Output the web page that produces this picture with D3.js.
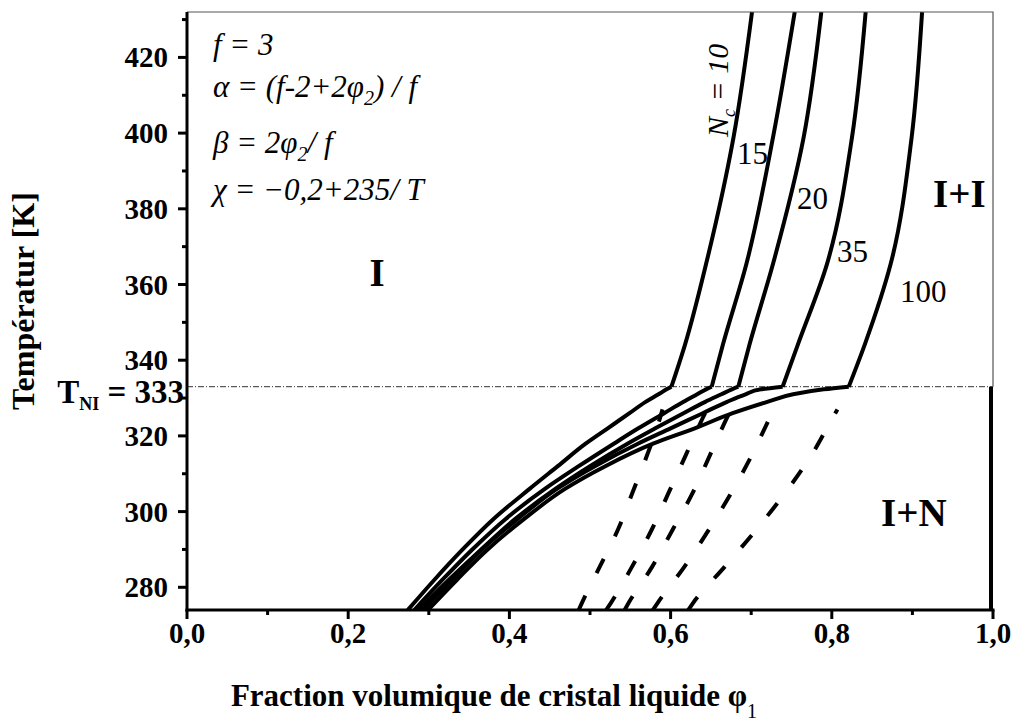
<!DOCTYPE html>
<html>
<head>
<meta charset="utf-8">
<script src="https://cdnjs.cloudflare.com/ajax/libs/d3/7.8.5/d3.min.js"></script>
<style>
  body { margin: 0; background: #fff; }
  svg text { font-family: "Liberation Serif", "Times New Roman", serif; fill: #000; }
</style>
</head>
<body>
<svg id="chart" width="1015" height="725"></svg>
<script>
// temperature grid (K) for the lower (I+N) branches
const lowT = [274, 282, 290, 298, 306, 312, 318, 322, 326, 329, 331, 332.3, 333];
// temperature grid for the upper (I+I) branches
const upT = [333, 344.2, 365.4, 398.8, 432];

const chainLengths = ['10', '15', '20', '35', '100'];

// phi1 of each binodal, lower branch (same order as lowT)
const low10  = [0.274, 0.307, 0.342, 0.380, 0.425, 0.460, 0.495, 0.522, 0.549, 0.569, 0.585, 0.595, 0.601];
const low15  = [0.282, 0.317, 0.354, 0.395, 0.444, 0.486, 0.530, 0.560, 0.592, 0.616, 0.633, 0.644, 0.651];
const low20  = [0.287, 0.325, 0.365, 0.407, 0.457, 0.500, 0.547, 0.581, 0.616, 0.643, 0.663, 0.676, 0.684];
const low35  = [0.293, 0.329, 0.366, 0.410, 0.459, 0.506, 0.560, 0.600, 0.640, 0.670, 0.693, 0.712, 0.739];
const low100 = [0.299, 0.335, 0.373, 0.418, 0.469, 0.519, 0.579, 0.630, 0.677, 0.720, 0.752, 0.790, 0.821];

// phi1 of each binodal, upper branch (same order as upT)
const up10  = [0.601, 0.618, 0.644, 0.678, 0.701];
const up15  = [0.651, 0.665, 0.694, 0.727, 0.754];
const up20  = [0.684, 0.698, 0.727, 0.765, 0.787];
const up35  = [0.739, 0.758, 0.794, 0.825, 0.842];
const up100 = [0.821, 0.841, 0.873, 0.899, 0.912];

// dashed (nematic side) curves
const dashT = [274, 275.9, 285.4, 295.4, 305.2, 315, 324.8, 327];
const dash10  = [0.486, 0.490, 0.512, 0.535, 0.553, 0.571, 0.587, 0.590];
const dash15  = [0.520, 0.526, 0.552, 0.577, 0.598, 0.619, 0.640, 0.645];
const dash20  = [0.543, 0.548, 0.577, 0.603, 0.628, 0.649, 0.670, 0.675];
const dash35  = [0.578, 0.584, 0.617, 0.648, 0.676, 0.701, 0.723, 0.728];
const dash100 = [0.622, 0.628, 0.667, 0.707, 0.743, 0.775, 0.801, 0.807];

const TNI = 333;
const xTicks = [0, 0.2, 0.4, 0.6, 0.8, 1.0];
const xMinor = [0.1, 0.3, 0.5, 0.7, 0.9];
const yTicks = [280, 300, 320, 340, 360, 380, 400, 420];
const yMinor = [290, 310, 330, 350, 370, 390, 410, 430];

const lowBranches = [low10, low15, low20, low35, low100];
const upBranches = [up10, up15, up20, up35, up100];
const dashBranches = [dash10, dash15, dash20, dash35, dash100];

const svg = d3.select('#chart');
const box = {left: 187, right: 993, top: 12, bottom: 610};

const x = d3.scaleLinear().domain([0, 1]).range([box.left, box.right]);
const y = d3.scaleLinear().domain([274, 432]).range([box.bottom, box.top]);

svg.append('defs').append('clipPath').attr('id', 'plot')
  .append('rect').attr('x', box.left).attr('y', box.top)
  .attr('width', box.right - box.left).attr('height', box.bottom - box.top);

const line = d3.line()
  .x(d => x(d[1]))
  .y(d => y(d[0]))
  .curve(d3.curveMonotoneY);

const g = svg.append('g').attr('clip-path', 'url(#plot)');

// T_NI line
g.append('line')
  .attr('x1', box.left).attr('x2', box.right)
  .attr('y1', y(TNI)).attr('y2', y(TNI))
  .attr('stroke', '#333').attr('stroke-width', 1)
  .attr('stroke-dasharray', '6,2,1,2');

lowBranches.forEach(function(b){
  g.append('path')
    .datum(lowT.map((t, i) => [t, b[i]]))
    .attr('d', line)
    .attr('fill', 'none').attr('stroke', '#000').attr('stroke-width', 4)
    .attr('stroke-linejoin', 'round');
});

upBranches.forEach(function(b){
  g.append('path')
    .datum(upT.map((t, i) => [t, b[i]]))
    .attr('d', line)
    .attr('fill', 'none').attr('stroke', '#000').attr('stroke-width', 4);
});

dashBranches.forEach(function(b){
  g.append('path')
    .datum(dashT.map((t, i) => [t, b[i]]))
    .attr('d', line)
    .attr('fill', 'none').attr('stroke', '#000').attr('stroke-width', 4)
    .attr('stroke-dasharray', '16,25');
});

// pure LC nematic line at phi1 = 1
g.append('line')
  .attr('x1', x(1) - 2).attr('x2', x(1) - 2)
  .attr('y1', y(TNI)).attr('y2', box.bottom)
  .attr('stroke', '#000').attr('stroke-width', 4);

// frame: thin top and right
svg.append('path')
  .attr('d', 'M' + box.left + ',' + box.top + 'H' + box.right + 'V' + y(TNI))
  .attr('fill', 'none').attr('stroke', '#555').attr('stroke-width', 1.2);

// axes
const xAxis = svg.append('g').attr('transform', 'translate(0,' + box.bottom + ')');
xAxis.append('line').attr('x1', box.left - 1.5).attr('x2', box.right + 1.5)
  .attr('stroke', '#000').attr('stroke-width', 3);
xAxis.selectAll('.maj').data(xTicks).enter().append('line')
  .attr('x1', d => x(d)).attr('x2', d => x(d)).attr('y1', 0).attr('y2', 9)
  .attr('stroke', '#000').attr('stroke-width', 3);
xAxis.selectAll('.min').data(xMinor).enter().append('line')
  .attr('x1', d => x(d)).attr('x2', d => x(d)).attr('y1', 0).attr('y2', 5)
  .attr('stroke', '#000').attr('stroke-width', 3);
xAxis.selectAll('.lab').data(xTicks).enter().append('text')
  .attr('x', d => x(d)).attr('y', 33)
  .attr('text-anchor', 'middle')
  .style('font-size', '29px').style('font-weight', 'bold')
  .text(d => d3.format('.1f')(d).replace('.', ','));

const yAxis = svg.append('g').attr('transform', 'translate(' + box.left + ',0)');
yAxis.append('line').attr('y1', box.top).attr('y2', box.bottom + 1.5)
  .attr('stroke', '#000').attr('stroke-width', 3);
yAxis.selectAll('.maj').data(yTicks).enter().append('line')
  .attr('y1', d => y(d)).attr('y2', d => y(d)).attr('x1', 0).attr('x2', -9)
  .attr('stroke', '#000').attr('stroke-width', 3);
yAxis.selectAll('.min').data(yMinor).enter().append('line')
  .attr('y1', d => y(d)).attr('y2', d => y(d)).attr('x1', 0).attr('x2', -5)
  .attr('stroke', '#000').attr('stroke-width', 3);
yAxis.selectAll('.lab').data(yTicks).enter().append('text')
  .attr('x', -19).attr('y', d => y(d) + 10)
  .attr('text-anchor', 'end')
  .style('font-size', '29px').style('font-weight', 'bold')
  .text(d => d);

// axis titles
const xt = svg.append('text')
  .attr('x', 494).attr('y', 706)
  .attr('text-anchor', 'middle')
  .style('font-size', '31px').style('font-weight', 'bold');
xt.append('tspan').text('Fraction volumique de cristal liquide \u03c6');
xt.append('tspan').attr('dy', 12).style('font-size', '20px').style('font-weight', 'normal').text('1');

svg.append('text')
  .attr('transform', 'translate(34,301) rotate(-90)')
  .attr('text-anchor', 'middle')
  .style('font-size', '32px').style('font-weight', 'bold')
  .text('Températur [K]');

const tni = svg.append('text')
  .attr('x', 184).attr('y', 403)
  .attr('text-anchor', 'end')
  .style('font-size', '33px').style('font-weight', 'bold');
tni.append('tspan').text('T');
tni.append('tspan').attr('dy', 7).style('font-size', '18px').text('NI');
tni.append('tspan').attr('dy', -7).text(' = 333');

// parameters
const par = svg.append('g')
  .style('font-size', '31px').style('font-style', 'italic');
function sub(t, base, s, rest){
  t.append('tspan').text(base);
  t.append('tspan').attr('dy', 8).style('font-size', '20px').text(s);
  t.append('tspan').attr('dy', -8).text(rest);
}
par.append('text').attr('x', 213).attr('y', 55).text('f = 3');
sub(par.append('text').attr('x', 213).attr('y', 97), '\u03b1 = (f-2+2\u03c6', '2', ') / f');
sub(par.append('text').attr('x', 213).attr('y', 153), '\u03b2 = 2\u03c6', '2', '/ f');
par.append('text').attr('x', 213).attr('y', 200).text('\u03c7 = \u22120,2+235/  T');

// phase labels
const phase = svg.append('g').style('font-size', '39px').style('font-weight', 'bold');
phase.append('text').attr('x', 377).attr('y', 286).attr('text-anchor', 'middle').text('I');
phase.append('text').attr('x', 933).attr('y', 207).text('I+I');
phase.append('text').attr('x', 881).attr('y', 526).text('I+N');

// chain length labels
const nc = svg.append('text')
  .attr('transform', 'translate(728,137) rotate(-90)')
  .style('font-size', '30px').style('font-style', 'italic');
nc.append('tspan').text('N');
nc.append('tspan').attr('dy', 7).style('font-size', '18px').text('c');
nc.append('tspan').attr('dy', -7).text(' = ' + chainLengths[0]);

const ncPos = [[737, 164], [797, 209], [837, 262], [900, 302]];
svg.selectAll('.nlab').data(chainLengths.slice(1)).enter().append('text')
  .attr('x', (d, i) => ncPos[i][0]).attr('y', (d, i) => ncPos[i][1])
  .style('font-size', '31px')
  .text(d => d);
</script>
</body>
</html>
